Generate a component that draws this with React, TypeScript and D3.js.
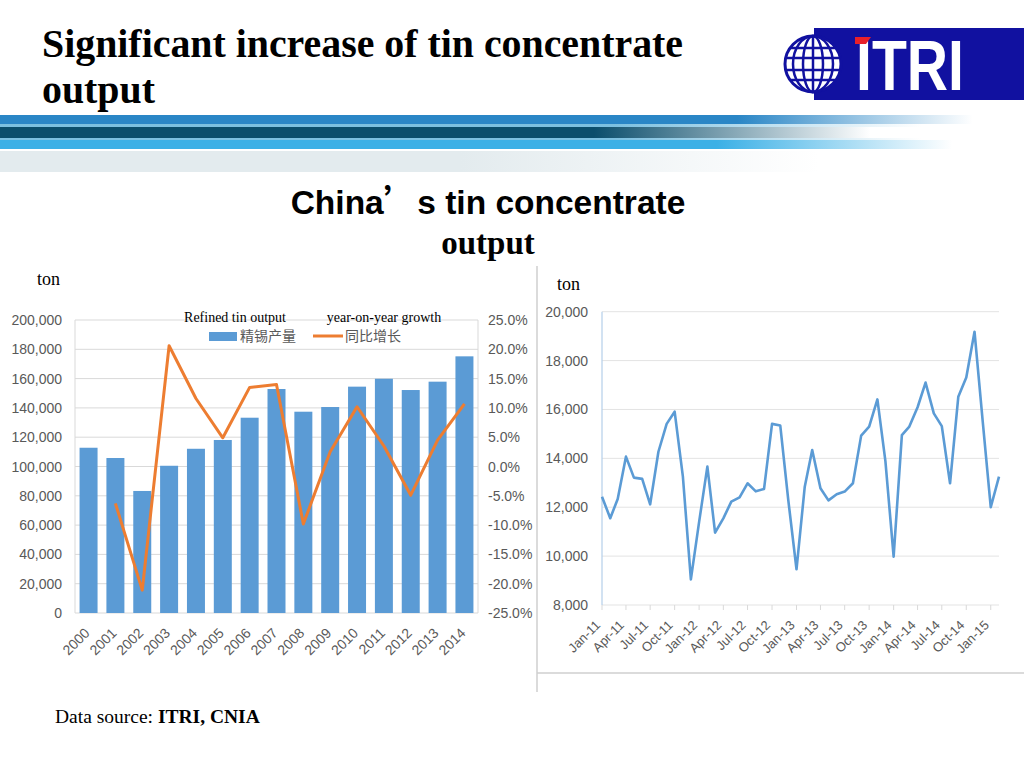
import React, { useEffect, useRef } from "react";
import * as d3 from "d3";

// left chart: yearly refined tin output + yoy growth
const years = ["2000", "2001", "2002", "2003", "2004", "2005", "2006", "2007", "2008", "2009", "2010", "2011", "2012", "2013", "2014"];
const refinedOutput = [112800, 105800, 83300, 100500, 112100, 118100, 133300, 152900, 137400, 140600, 154500, 159900, 152200, 157900, 175200];
const yoyGrowth: (number | null)[] = [null, -6.3, -21.1, 20.6, 11.6, 4.9, 13.5, 14.0, -9.8, 2.5, 10.2, 3.5, -4.9, 4.5, 10.7];
const outputTicks = [0, 20000, 40000, 60000, 80000, 100000, 120000, 140000, 160000, 180000, 200000];
const growthTicks = [-25, -20, -15, -10, -5, 0, 5, 10, 15, 20, 25];

// right chart: monthly tin concentrate output, Jan-11 .. Feb-15
const monthlyOutput = [
  12430, 11550, 12340, 14070, 13210, 13160, 12120, 14270, 15410, 15910, 13250, 9050,
  11400, 13660, 10960, 11545, 12230, 12405, 12980, 12650, 12750, 15410, 15340, 12300,
  9460, 12840, 14340, 12780, 12280, 12530, 12640, 12980, 14930, 15300, 16410, 13900,
  9980, 14950, 15300, 16090, 17100, 15840, 15320, 12980, 16520, 17310, 19180, 15600,
  12000, 13250,
];
const monthTickLabels = ["Jan-11", "Apr-11", "Jul-11", "Oct-11", "Jan-12", "Apr-12", "Jul-12", "Oct-12", "Jan-13", "Apr-13", "Jul-13", "Oct-13", "Jan-14", "Apr-14", "Jul-14", "Oct-14", "Jan-15"];
const monthlyTicks = [8000, 10000, 12000, 14000, 16000, 18000, 20000];

const sans = "'Liberation Sans', Arial, sans-serif";
const serif = "'Liberation Serif', 'Times New Roman', serif";
const cjk = "'Noto Sans CJK SC', sans-serif";
const grey = "#595959";

const App: React.FC = () => {
  const svgRef = useRef<SVGSVGElement | null>(null);

  useEffect(() => {
    const svg = d3.select(svgRef.current);
    svg.selectAll("*").remove();

    const defs = svg.append("defs");
    const fade = (id: string, color: string, start: number, end: number) => {
      const g = defs.append("linearGradient").attr("id", id).attr("x1", 0).attr("x2", 1).attr("y1", 0).attr("y2", 0);
      g.append("stop").attr("offset", start).attr("stop-color", color).attr("stop-opacity", 1);
      g.append("stop").attr("offset", end).attr("stop-color", color).attr("stop-opacity", 0);
    };
    fade("s1", "#2a86c6", 0.72, 0.95);
    fade("s2", "#7cc0e0", 0.6, 0.9);
    fade("s3", "#0b4e6c", 0.58, 0.85);
    fade("s4", "#3bb0e6", 0.7, 0.93);
    fade("s5", "#e3ebee", 0.45, 0.8);

    // header stripes
    const stripes = [
      { y: 115, h: 9, id: "s1" },
      { y: 124, h: 3, id: "s2" },
      { y: 127, h: 11, id: "s3" },
      { y: 138, h: 2, id: "s2" },
      { y: 140, h: 9, id: "s4" },
      { y: 151, h: 21, id: "s5" },
    ];
    svg.selectAll("rect.stripe").data(stripes).enter().append("rect")
      .attr("class", "stripe")
      .attr("x", 0).attr("y", (d) => d.y).attr("width", 1024).attr("height", (d) => d.h)
      .attr("fill", (d) => `url(#${d.id})`);

    // title
    svg.append("text").attr("x", 42).attr("y", 57)
      .attr("font-family", serif).attr("font-weight", "bold").attr("font-size", 40)
      .attr("textLength", 641).attr("lengthAdjust", "spacingAndGlyphs")
      .text("Significant increase of tin concentrate");
    svg.append("text").attr("x", 42).attr("y", 103)
      .attr("font-family", serif).attr("font-weight", "bold").attr("font-size", 40)
      .attr("textLength", 113).attr("lengthAdjust", "spacingAndGlyphs")
      .text("output");

    // logo
    const logo = svg.append("g");
    logo.append("rect").attr("x", 814).attr("y", 28).attr("width", 210).attr("height", 72).attr("fill", "#1111a0");
    logo.append("circle").attr("cx", 813).attr("cy", 64).attr("r", 28).attr("fill", "#fff").attr("stroke", "#1111a0").attr("stroke-width", 3);
    [20, 10].forEach((rx) => {
      logo.append("ellipse").attr("cx", 813).attr("cy", 64).attr("rx", rx).attr("ry", 28)
        .attr("fill", "none").attr("stroke", "#1111a0").attr("stroke-width", 2.5);
    });
    logo.append("line").attr("x1", 813).attr("x2", 813).attr("y1", 36).attr("y2", 92).attr("stroke", "#1111a0").attr("stroke-width", 2.5);
    [-16, -6, 6, 16].forEach((dy) => {
      const half = Math.sqrt(28 * 28 - dy * dy);
      logo.append("line").attr("x1", 813 - half).attr("x2", 813 + half).attr("y1", 64 + dy).attr("y2", 64 + dy)
        .attr("stroke", "#1111a0").attr("stroke-width", 2.5);
    });
    logo.append("text").attr("x", 856).attr("y", 90)
      .attr("font-family", sans).attr("font-weight", "bold").attr("font-size", 70)
      .attr("textLength", 108).attr("lengthAdjust", "spacingAndGlyphs")
      .attr("fill", "#fff").text("ITRI");
    logo.append("polygon").attr("points", "855,37 871,37 866,44 855,44").attr("fill", "#e8202a");

    // chart heading
    const head = svg.append("text").attr("x", 488).attr("y", 214).attr("text-anchor", "middle")
      .attr("font-family", sans).attr("font-weight", "bold").attr("font-size", 33.5);
    head.append("tspan").text("China");
    head.append("tspan").attr("font-family", cjk).text("’");
    head.append("tspan").text("s tin concentrate");
    svg.append("text").attr("x", 488).attr("y", 254).attr("text-anchor", "middle")
      .attr("font-family", serif).attr("font-weight", "bold").attr("font-size", 33).text("output");

    svg.append("text").attr("x", 37).attr("y", 285).attr("font-family", serif).attr("font-size", 18).text("ton");
    svg.append("text").attr("x", 557).attr("y", 290).attr("font-family", serif).attr("font-size", 18).text("ton");

    // ---------- left chart ----------
    const L = { left: 75, right: 478, top: 320, bottom: 613 };
    const x = d3.scaleBand<string>().domain(years).range([L.left, L.right]).paddingInner(0.33).paddingOuter(0.17);
    const y = d3.scaleLinear().domain([0, 200000]).range([L.bottom, L.top]);
    const y2 = d3.scaleLinear().domain([-25, 25]).range([L.bottom, L.top]);

    const left = svg.append("g");
    left.selectAll("line.grid").data(outputTicks).enter().append("line")
      .attr("x1", L.left).attr("x2", L.right).attr("y1", (d) => y(d)).attr("y2", (d) => y(d))
      .attr("stroke", "#d9d9d9").attr("stroke-width", 1);
    left.append("line").attr("x1", L.left).attr("x2", L.left).attr("y1", L.top).attr("y2", L.bottom).attr("stroke", "#d9d9d9");
    left.append("line").attr("x1", L.right).attr("x2", L.right).attr("y1", L.top).attr("y2", L.bottom).attr("stroke", "#d9d9d9");

    left.selectAll("text.yl").data(outputTicks).enter().append("text")
      .attr("x", 62).attr("y", (d) => y(d) + 5).attr("text-anchor", "end")
      .attr("font-family", sans).attr("font-size", 14).attr("fill", grey)
      .text((d) => d3.format(",")(d));
    left.selectAll("text.yr").data(growthTicks).enter().append("text")
      .attr("x", 488).attr("y", (d) => y2(d) + 5)
      .attr("font-family", sans).attr("font-size", 14).attr("fill", grey)
      .text((d) => d.toFixed(1) + "%");

    left.selectAll("rect.bar").data(refinedOutput).enter().append("rect")
      .attr("x", (_d, i) => x(years[i]) as number).attr("width", x.bandwidth())
      .attr("y", (d) => y(d)).attr("height", (d) => L.bottom - y(d))
      .attr("fill", "#5b9bd5");

    const growthLine = d3.line<number | null>()
      .defined((d) => d !== null)
      .x((_d, i) => (x(years[i]) as number) + x.bandwidth() / 2)
      .y((d) => y2(d as number));
    left.append("path").datum(yoyGrowth).attr("d", growthLine)
      .attr("fill", "none").attr("stroke", "#ed7d31").attr("stroke-width", 3).attr("stroke-linejoin", "round");

    left.selectAll("text.xl").data(years).enter().append("text")
      .attr("transform", (d) => `translate(${(x(d) as number) + x.bandwidth() / 2 + 2},${L.bottom + 21}) rotate(-45)`)
      .attr("text-anchor", "end")
      .attr("font-family", sans).attr("font-size", 14).attr("fill", grey)
      .text((d) => d);

    // legend
    left.append("text").attr("x", 235).attr("y", 322).attr("text-anchor", "middle")
      .attr("font-family", serif).attr("font-size", 14).text("Refined tin output");
    left.append("text").attr("x", 384).attr("y", 322).attr("text-anchor", "middle")
      .attr("font-family", serif).attr("font-size", 14).text("year-on-year growth");
    left.append("rect").attr("x", 209).attr("y", 332).attr("width", 28).attr("height", 9).attr("fill", "#5b9bd5");
    left.append("text").attr("x", 240).attr("y", 341).attr("font-family", cjk).attr("font-size", 14).attr("fill", grey).text("精锡产量");
    left.append("line").attr("x1", 313).attr("x2", 343).attr("y1", 336).attr("y2", 336).attr("stroke", "#ed7d31").attr("stroke-width", 3);
    left.append("text").attr("x", 345).attr("y", 341).attr("font-family", cjk).attr("font-size", 14).attr("fill", grey).text("同比增长");

    // ---------- right chart ----------
    const R = { left: 602, right: 999, top: 311.7, bottom: 605 };
    const start = new Date(2011, 0, 1);
    const months = monthlyOutput.map((_d, i) => d3.timeMonth.offset(start, i));
    const xt = d3.scaleTime().domain([months[0], months[months.length - 1]]).range([R.left, R.right]);
    const yr = d3.scaleLinear().domain([8000, 20000]).range([R.bottom, R.top]);

    const right = svg.append("g");
    right.append("line").attr("x1", 537).attr("x2", 537).attr("y1", 266).attr("y2", 692).attr("stroke", "#cfcfcf").attr("stroke-width", 1.5);
    right.append("line").attr("x1", 537).attr("x2", 1024).attr("y1", 673).attr("y2", 673).attr("stroke", "#cfcfcf").attr("stroke-width", 1.5);

    right.selectAll("line.grid").data(monthlyTicks).enter().append("line")
      .attr("x1", R.left).attr("x2", R.right).attr("y1", (d) => yr(d)).attr("y2", (d) => yr(d))
      .attr("stroke", "#e3e3e3").attr("stroke-width", 1);
    right.append("line").attr("x1", R.left).attr("x2", R.left).attr("y1", R.top).attr("y2", R.bottom)
      .attr("stroke", "#b4cfea").attr("stroke-width", 1.2);

    right.selectAll("text.yl").data(monthlyTicks).enter().append("text")
      .attr("x", 588).attr("y", (d) => yr(d) + 5).attr("text-anchor", "end")
      .attr("font-family", sans).attr("font-size", 14).attr("fill", grey)
      .text((d) => d3.format(",")(d));

    const tickDates = monthTickLabels.map((_l, i) => d3.timeMonth.offset(start, i * 3));
    right.selectAll("line.tick").data(tickDates).enter().append("line")
      .attr("x1", (d) => xt(d)).attr("x2", (d) => xt(d)).attr("y1", R.bottom).attr("y2", R.bottom + 5)
      .attr("stroke", "#d9d9d9");
    right.selectAll("text.xl").data(tickDates).enter().append("text")
      .attr("transform", (d) => `translate(${xt(d) - 1},${R.bottom + 21}) rotate(-45)`)
      .attr("text-anchor", "end")
      .attr("font-family", sans).attr("font-size", 13).attr("fill", grey)
      .text((_d, i) => monthTickLabels[i]);

    const monthLine = d3.line<number>()
      .x((_d, i) => xt(months[i]))
      .y((d) => yr(d));
    right.append("path").datum(monthlyOutput).attr("d", monthLine)
      .attr("fill", "none").attr("stroke", "#5b9bd5").attr("stroke-width", 2.6).attr("stroke-linejoin", "round");

    // source
    const src = svg.append("text").attr("x", 55).attr("y", 723).attr("font-family", serif).attr("font-size", 19.5);
    src.append("tspan").text("Data source: ");
    src.append("tspan").attr("font-weight", "bold").text("ITRI, CNIA");
  }, []);

  return (
    <div style={{ position: "absolute", left: 0, top: 0, width: 1024, height: 768, background: "#fff" }}>
      <svg ref={svgRef} width={1024} height={768} />
    </div>
  );
};

export default App;
